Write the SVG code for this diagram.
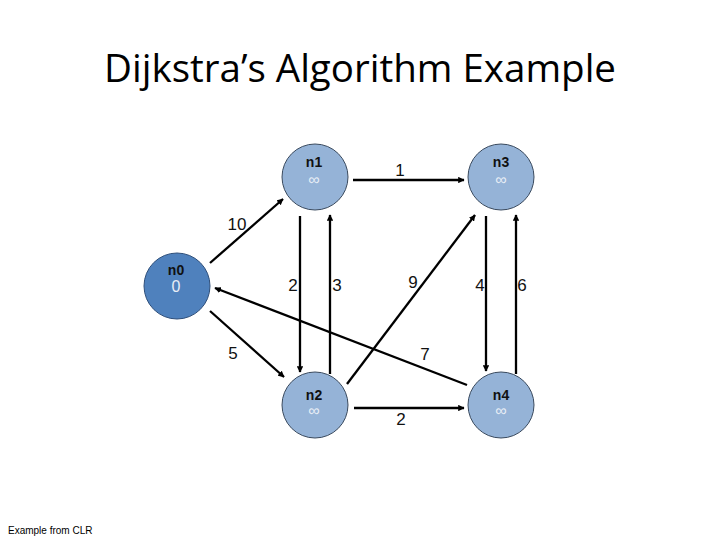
<svg xmlns="http://www.w3.org/2000/svg" width="720" height="540" viewBox="0 0 720 540">
<style>
.node{fill:#95b3d7;stroke:#3a4a5e;stroke-width:1}
.src{fill:#4f81bd;stroke:#2f4f7a;stroke-width:1}
.nm{font-family:"Liberation Sans",Arial,sans-serif;font-size:14px;font-weight:bold;fill:#111;text-anchor:middle}
.val{font-family:"Liberation Sans",Arial,sans-serif;font-size:16px;fill:#e8eef6;text-anchor:middle}
.e{stroke:#000;stroke-width:2.3;fill:none;marker-end:url(#ah)}
.lb{font-family:"Liberation Sans",Arial,sans-serif;font-size:17px;fill:#111;text-anchor:middle}
</style>
<defs>
<marker id="ah" viewBox="0 0 10 10" refX="9" refY="5" markerWidth="2.8" markerHeight="2.8" orient="auto" markerUnits="strokeWidth">
<path d="M0,0 L10,5 L0,10 z" fill="#000"/>
</marker>
</defs>
<rect width="720" height="540" fill="#fff"/>
<text x="360" y="82" font-family="'Open Sans','Liberation Sans',sans-serif" font-size="38" text-anchor="middle" textLength="512" lengthAdjust="spacingAndGlyphs" fill="#000">Dijkstra’s Algorithm Example</text>
<g id="connectors">
<line class="e" x1="210" y1="263" x2="283" y2="199"/>
<line class="e" x1="353" y1="180" x2="464" y2="180"/>
<line class="e" x1="300" y1="216" x2="300" y2="372"/>
<line class="e" x1="330" y1="374" x2="330" y2="215"/>
<line class="e" x1="347" y1="384" x2="475" y2="215"/>
<line class="e" x1="467" y1="385" x2="215" y2="288"/>
<line class="e" x1="486" y1="216" x2="486" y2="371"/>
<line class="e" x1="516" y1="374" x2="516" y2="215"/>
<line class="e" x1="210" y1="311" x2="284" y2="377"/>
<line class="e" x1="354" y1="408" x2="464" y2="408"/>
<text class="lb" x="237" y="230">10</text>
<text class="lb" x="400" y="176">1</text>
<text class="lb" x="293" y="291">2</text>
<text class="lb" x="337" y="291">3</text>
<text class="lb" x="413" y="288">9</text>
<text class="lb" x="425" y="360">7</text>
<text class="lb" x="480" y="291">4</text>
<text class="lb" x="522" y="291">6</text>
<text class="lb" x="233" y="359">5</text>
<text class="lb" x="401" y="425">2</text>
</g>
<g id="n0"><circle class="src" cx="177" cy="286" r="33"/><text class="nm" x="176" y="275">n0</text><text class="val" x="176" y="292">0</text></g>
<g id="n1"><circle class="node" cx="315" cy="177" r="33"/><text class="nm" x="314" y="167">n1</text><text class="val" x="314" y="185">∞</text></g>
<g id="n3"><circle class="node" cx="501" cy="177" r="33"/><text class="nm" x="501" y="167">n3</text><text class="val" x="501" y="185">∞</text></g>
<g id="n2"><circle class="node" cx="315" cy="405" r="33"/><text class="nm" x="314" y="400">n2</text><text class="val" x="314" y="416">∞</text></g>
<g id="n4"><circle class="node" cx="501" cy="405" r="33"/><text class="nm" x="501" y="400">n4</text><text class="val" x="501" y="416">∞</text></g>
<text x="8" y="534" font-family="'Liberation Sans',Arial,sans-serif" font-size="10" fill="#000">Example from CLR</text>
</svg>
